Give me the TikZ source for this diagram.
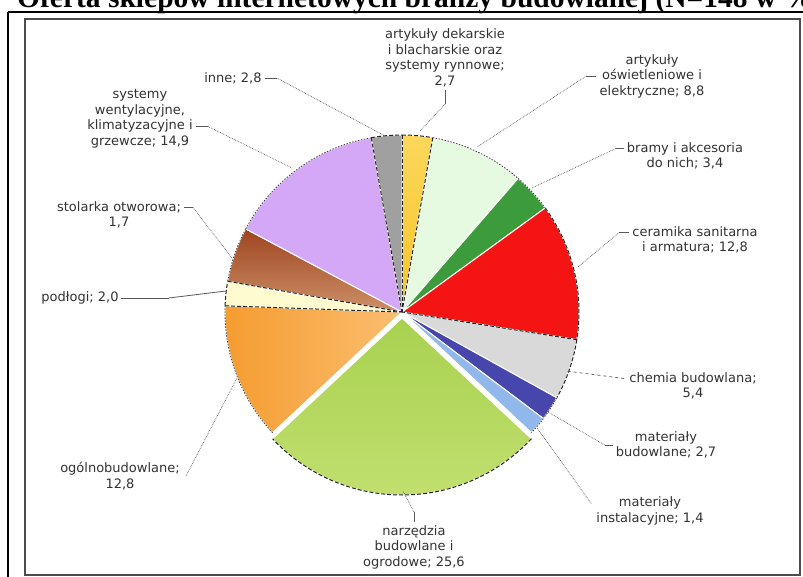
\documentclass[tikz,border=0pt]{standalone}
\usepackage{fontspec}
\newfontfamily\lblfont{DejaVu Sans}
\newfontfamily\ttlfont{Liberation Serif}
\usetikzlibrary{calc}
\definecolor{cDek}{HTML}{F7C42A}
\definecolor{cDekB}{HTML}{FBD75A}
\definecolor{cOsw}{HTML}{E6FAE2}
\definecolor{cBra}{HTML}{3C9C3C}
\definecolor{cCer}{HTML}{F41414}
\definecolor{cChe}{HTML}{D9D9D9}
\definecolor{cMbu}{HTML}{4646AC}
\definecolor{cMin}{HTML}{90B8EA}
\definecolor{cNar}{HTML}{A8D150}
\definecolor{cNarB}{HTML}{C2E070}
\definecolor{cOgo}{HTML}{F59C30}
\definecolor{cOgoB}{HTML}{FBBE70}
\definecolor{cPod}{HTML}{FFFBD0}
\definecolor{cSto}{HTML}{9E4520}
\definecolor{cStoB}{HTML}{CD9068}
\definecolor{cSys}{HTML}{D4A8F7}
\definecolor{cInn}{HTML}{A0A0A0}
\newcommand\Rpie{177pt}
% #1 start angle, #2 end angle, #3 fill options, #4 centre coordinate, #5 outline style
\newcommand\pieslice[5]{%
  \path[#3, draw=white, line width=1pt] (#4) -- ++(#1:\Rpie) arc[start angle=#1,end angle=#2,radius=\Rpie] -- cycle;
  \draw[#5] (#4) ++(#1:\Rpie) arc[start angle=#1,end angle=#2,radius=\Rpie];
}
\newcommand\pieedge[3]{%
  \draw[#3] (#2) ++(#1:\Rpie) -- (#2);
}
\begin{document}
\begin{tikzpicture}[x=1pt,y=1pt,
  lbl/.style={font=\lblfont\fontsize{13}{15.5}\selectfont, text=black!80, align=center, inner sep=0pt},
  leader/.style={draw=black!65, line width=0.7pt, densely dotted},
  stub/.style={draw=black!65, line width=0.8pt},
  rim/.style={draw=black!75, line width=0.8pt, dash pattern=on 1.5pt off 1.5pt},
  rimdash/.style={draw=black!85, line width=1pt, dash pattern=on 4pt off 2pt},
]
\useasboundingbox (0,0) rectangle (803,-577);
\fill[white] (0,0) rectangle (803,-577);
% title (top part is cut off by the page)
\node[font={\ttlfont\bfseries\fontsize{29.5}{32}\selectfont}, anchor=base west, inner sep=0pt] (title) at (17,-8) {Oferta sklepów internetowych branży budowlanej (N=148 w \%)};
% frames
\draw[line width=2.2pt] (8,-12) -- (8,-600) (8,-12) -- (830,-12);
\draw[black!70, line width=1.4pt] (25,-19) rectangle (800,-575);
% pie
\coordinate (C) at (402,-312);
\coordinate (CN) at (402,-318);
\pieslice{90}{80}{top color=cDekB,bottom color=cDek}{C}{rimdash}
\pieslice{80}{49}{fill=cOsw}{C}{rim}
\pieslice{49}{36}{fill=cBra}{C}{rim}
\pieslice{36}{-9}{fill=cCer}{C}{rimdash}
\pieslice{-9}{-29}{fill=cChe}{C}{rimdash}
\pieslice{-29}{-37}{fill=cMbu}{C}{rim}
\pieslice{-37}{-43}{fill=cMin}{C}{rim}
\pieslice{-43}{-137}{top color=cNar,bottom color=cNarB}{CN}{rimdash}
\pieslice{-137}{-182}{left color=cOgo,right color=cOgoB}{C}{rim}
\pieslice{-182}{-190}{fill=cPod}{C}{rimdash}
\pieslice{-190}{-208}{top color=cSto,bottom color=cStoB}{C}{rim}
\pieslice{-208}{-260}{fill=cSys}{C}{rim}
\pieslice{-260}{-270}{fill=cInn}{C}{rimdash}
\pieedge{90}{C}{rimdash}
\pieedge{80}{C}{rimdash}
\pieedge{-260}{C}{rimdash}
\pieedge{-182}{C}{rimdash}
\pieedge{-190}{C}{rimdash}
\pieedge{-9}{C}{rimdash}
% leader end points on the slices
\coordinate (e1) at (420,-131);
\coordinate (e2) at (477,-147);
\coordinate (e3) at (532,-188);
\coordinate (e4) at (578,-267);
\coordinate (e5) at (566,-371);
\coordinate (e6) at (548,-412);
\coordinate (e7) at (537,-428);
\coordinate (e8) at (403,-491);
\coordinate (e9) at (237,-378);
\coordinate (e10) at (226,-291);
\coordinate (e11) at (232,-258);
\coordinate (e12) at (292,-168);
\coordinate (e13) at (385,-136);
% labels
\node[lbl] (l1) at (445,-58) {artykuły dekarskie\\i blacharskie oraz\\systemy rynnowe;\\2,7};
\node[lbl] (l2) at (652,-76) {artykuły\\oświetleniowe i\\elektryczne; 8,8};
\node[lbl] (l3) at (685,-156) {bramy i akcesoria\\do nich; 3,4};
\node[lbl] (l4) at (695,-240) {ceramika sanitarna\\i armatura; 12,8};
\node[lbl] (l5) at (693,-386) {chemia budowlana;\\5,4};
\node[lbl] (l6) at (666,-445) {materiały\\budowlane; 2,7};
\node[lbl] (l7) at (650,-511) {materiały\\instalacyjne; 1,4};
\node[lbl] (l8) at (414,-547) {narzędzia\\budowlane i\\ogrodowe; 25,6};
\node[lbl] (l9) at (120,-476) {ogólnobudowlane;\\12,8};
\node[lbl] (l10) at (80,-298) {podłogi; 2,0};
\node[lbl] (l11) at (119,-215) {stolarka otworowa;\\1,7};
\node[lbl] (l12) at (140,-119) {systemy\\wentylacyjne,\\klimatyzacyjne i\\grzewcze; 14,9};
\node[lbl] (l13) at (233,-78) {inne; 2,8};
% leaders
\draw[stub] ([yshift=-3pt]l1.south) -- ++(0,-14) coordinate (s1);
\draw[leader] (s1) -- (e1);
\draw[stub] ([xshift=-3pt]l2.west) -- ++(-10,0) coordinate (s2);
\draw[leader] (s2) -- (e2);
\draw[stub] ([xshift=-3pt,yshift=7.5pt]l3.west) -- ++(-8,0) coordinate (s3);
\draw[leader] (s3) -- (e3);
\draw[stub] ([xshift=-3pt,yshift=7.5pt]l4.west) -- ++(-10,0) coordinate (s4);
\draw[leader] (s4) -- (e4);
\draw[leader, dashed] ([xshift=-5pt,yshift=7.5pt]l5.west) -- (e5);
\draw[stub] ([xshift=-3pt]l6.west) -- ++(-8,0) coordinate (s6);
\draw[leader] (s6) -- (e6);
\draw[leader] ([xshift=-5pt,yshift=7.5pt]l7.west) -- (e7);
\draw[stub] ([yshift=3pt]l8.north) -- ++(0,10) coordinate (s8);
\draw[leader] (s8) -- (e8);
\draw[leader] ([xshift=6pt]l9.east) -- (e9);
\draw[stub] ([xshift=2pt]l10.east) -- ++(48,0) coordinate (s10);
\draw[stub] (s10) -- (e10);
\draw[stub] ([xshift=3pt,yshift=7.5pt]l11.east) -- ++(9,0) coordinate (s11);
\draw[leader] (s11) -- (e11);
\draw[stub] ([xshift=3pt,yshift=-7.5pt]l12.east) -- ++(12,0) coordinate (s12);
\draw[leader] (s12) -- (e12);
\draw[stub] ([xshift=3pt]l13.east) -- ++(12,0) coordinate (s13);
\draw[leader] (s13) -- (e13);
\end{tikzpicture}
\end{document}
